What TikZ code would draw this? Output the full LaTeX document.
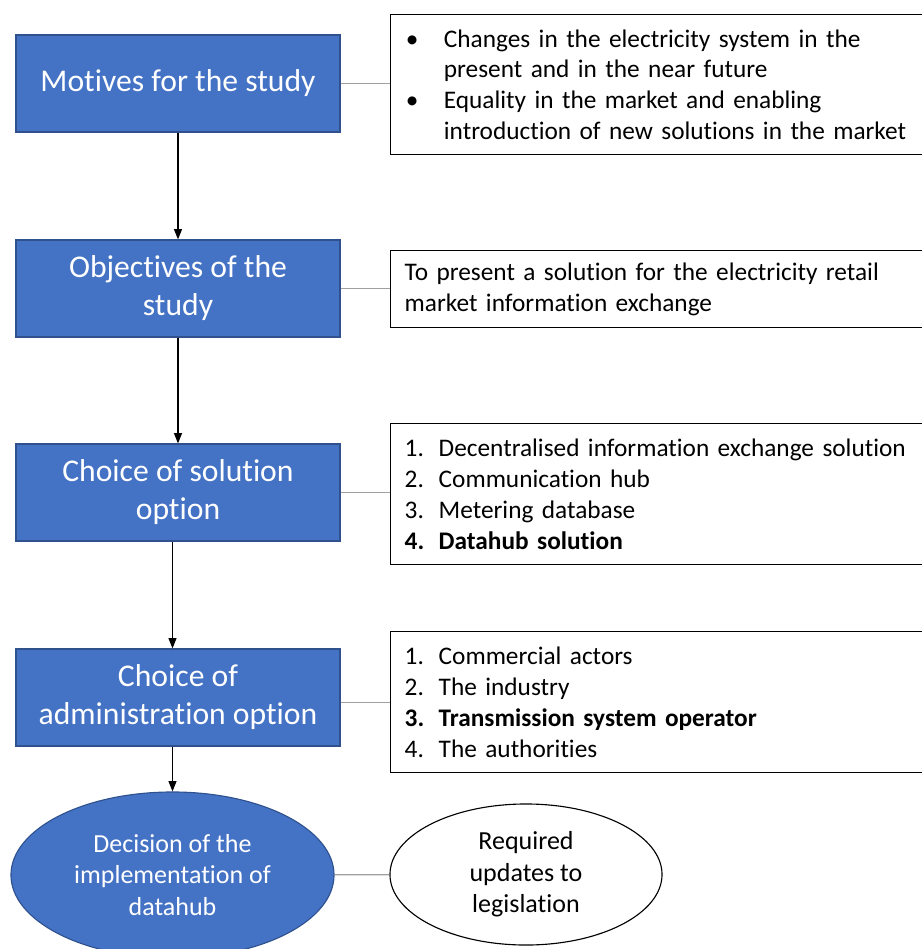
\documentclass[tikz,border=0pt]{standalone}
\usepackage{fontspec}
\setmainfont[Ligatures=NoCommon]{Carlito}
\usetikzlibrary{shapes,arrows,arrows.meta,positioning,calc}

\newcommand{\bulitem}{\makebox[0.98cm][l]{\hspace{0.03cm}\textbullet}}
\newcommand{\bulcont}{\hspace*{0.98cm}}
\newcommand{\numitem}[1]{\makebox[0.85cm][l]{#1.}}

\begin{document}
\begin{tikzpicture}[x=0.025cm, y=-0.025cm,
    every node/.style={font=\fontsize{18}{22}\selectfont},
    stage/.style={draw=stageedge, fill=stageblue, text=white, line width=0.8pt,
      minimum width=8.1cm, minimum height=2.425cm, align=center,
      font=\fontsize{22.5}{27}\selectfont},
    listbox/.style={draw=black, line width=1pt, anchor=north west, align=left,
      text width=13.5cm, inner xsep=0.35cm, inner ysep=0pt},
    arr/.style={-{Triangle[length=0.26cm,width=0.2cm]}, line width=0.9pt},
    link/.style={draw=linkgray, line width=1pt}]
    \definecolor{stageblue}{RGB}{68,114,196}
    \definecolor{stageedge}{RGB}{47,82,143}
    \definecolor{linkgray}{RGB}{160,160,160}

    \useasboundingbox (0,0) rectangle (922,949);

    % Stages
    \node[stage] (motives) at (178,83.5) {Motives for the study};
    \node[stage] (objectives) at (178,288.5) {Objectives of the\\study};
    \node[stage] (solution) at (178,492.5) {Choice of solution\\option};
    \node[stage] (admin) at (178,697.5) {Choice of\\administration option};
    \node[ellipse, draw=stageedge, fill=stageblue, text=white, line width=0.8pt,
      minimum width=8.075cm, minimum height=4.15cm, inner sep=0pt, align=center,
      font=\fontsize{18.5}{22.5}\selectfont]
      (decision) at (172.5,875) {Decision of the\\implementation of\\datahub};

    % Side boxes
    \node[listbox, minimum height=3.5cm] (motlist) at (390,14)
      {\bulitem Changes in the electricity system in the\\
       \bulcont present and in the near future\\
       \bulitem Equality in the market and enabling\\
       \bulcont introduction of new solutions in the market};
    \node[listbox, minimum height=1.925cm] (objlist) at (390,250)
      {To present a solution for the electricity retail\\
       market information exchange};
    \node[listbox, minimum height=3.525cm] (sollist) at (390,423)
      {\numitem{1}Decentralised information exchange solution\\
       \numitem{2}Communication hub\\
       \numitem{3}Metering database\\
       \textbf{\numitem{4}Datahub solution}};
    \node[listbox, minimum height=3.525cm] (admlist) at (390,631)
      {\numitem{1}Commercial actors\\
       \numitem{2}The industry\\
       \textbf{\numitem{3}Transmission system operator}\\
       \numitem{4}The authorities};
    \node[ellipse, draw=black, line width=0.8pt, minimum width=6.8cm,
      minimum height=3.525cm, inner sep=0pt, align=center,
      font=\fontsize{18.5}{22.5}\selectfont]
      (legis) at (526,874.5) {Required\\updates to\\legislation};

    % Arrows down the chain
    \draw[arr] (motives) -- (objectives);
    \draw[arr] (objectives) -- (solution);
    \draw[arr] (decision.north |- solution.south) -- (decision.north |- admin.north);
    \draw[arr] (decision.north |- admin.south) -- (decision.north);

    % Links to the side boxes
    \draw[link] (motives) -- (motives -| motlist.west);
    \draw[link] (objectives) -- (objectives -| objlist.west);
    \draw[link] (solution) -- (solution -| sollist.west);
    \draw[link] (admlist.west -| admin.east) -- (admlist.west);
    \draw[link] (decision) -- (legis);
\end{tikzpicture}
\end{document}
